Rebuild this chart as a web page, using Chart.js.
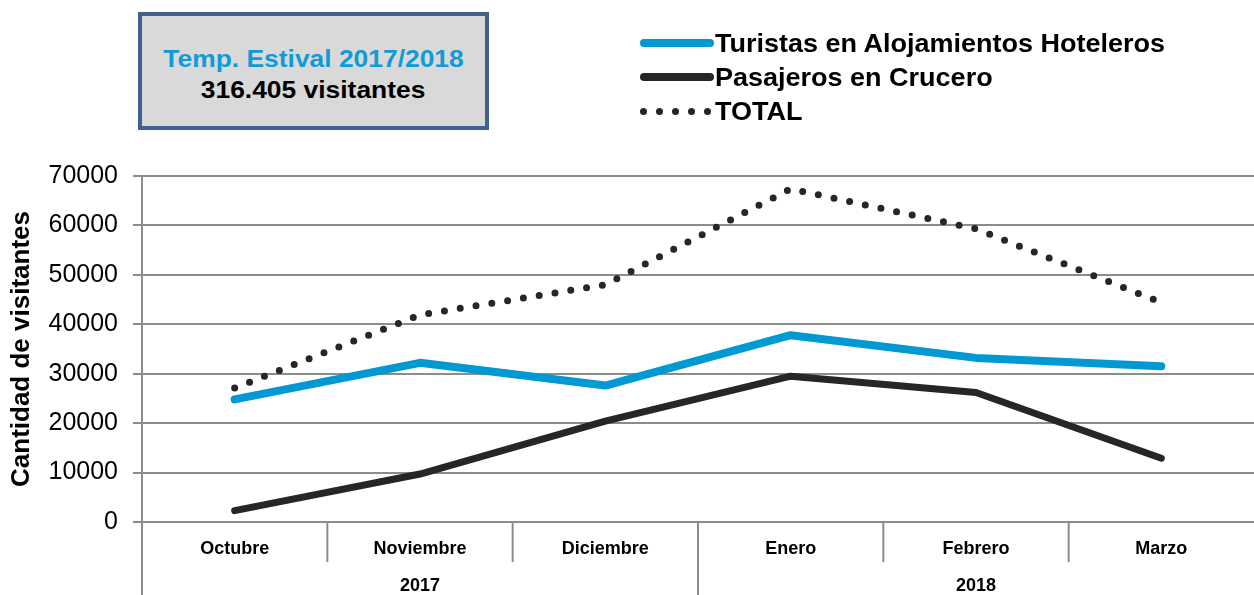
<!DOCTYPE html>
<html>
<head>
<meta charset="utf-8">
<script src="https://cdn.jsdelivr.net/npm/chart.js@4.4.0/dist/chart.umd.min.js"></script>
<style>
  body { margin: 0; background: #fff; font-family: "Liberation Sans", Arial, sans-serif; }
  #wrap { position: relative; width: 1254px; height: 595px; }
  #info {
    position: absolute; left: 138px; top: 12px; width: 343px;
    background: #d9d9d9; border: 4px solid #41618f;
    text-align: center; font-weight: bold; font-size: 24px; line-height: 31px;
    padding-top: 27px; height: 83px;
  }
  #info div span { display: inline-block; transform: scaleX(1.1); }
  #info .t1 { color: #0f9bd7; }
  #info .t2 { color: #000; }
  .leg { position: absolute; left: 640px; font-weight: bold; font-size: 25px; color: #000; height: 30px; line-height: 30px; }
  .leg .sw { position: absolute; left: 0; top: 11px; width: 74px; height: 8px; border-radius: 4px; }
  .leg .dots { position: absolute; left: 0; top: 12px; width: 74px; height: 7px; }
  .leg .dots span { position: absolute; top: 0; width: 7px; height: 7px; border-radius: 50%; background: #262626; }
  .leg .lbl { position: absolute; left: 75px; white-space: nowrap; transform: scaleX(1.08); transform-origin: 0 50%; }
  canvas { position: absolute; left: 0; top: 0; }
</style>
</head>
<body>
<div id="wrap">
  <canvas id="myChart" width="1254" height="595"></canvas>
  <div id="info"><div class="t1"><span>Temp. Estival 2017/2018</span></div><div class="t2"><span>316.405 visitantes</span></div></div>
  <div class="leg" style="top:28px"><div class="sw" style="background:#0099d4"></div><div class="lbl">Turistas en Alojamientos Hoteleros</div></div>
  <div class="leg" style="top:62px"><div class="sw" style="background:#262626"></div><div class="lbl">Pasajeros en Crucero</div></div>
  <div class="leg" style="top:96px"><div class="dots"><span style="left:0"></span><span style="left:16px"></span><span style="left:32px"></span><span style="left:48px"></span><span style="left:64px"></span></div><div class="lbl">TOTAL</div></div>
</div>
<script>
var months = ['Octubre', 'Noviembre', 'Diciembre', 'Enero', 'Febrero', 'Marzo'];
var years = ['2017', '2018'];
var turistas = [24800, 32200, 27600, 37800, 33200, 31500];
var crucero = [2300, 9700, 20400, 29500, 26200, 12900];
var total = [27100, 41900, 48000, 67400, 59300, 44400];
var yTicks = [0, 10000, 20000, 30000, 40000, 50000, 60000, 70000];

var FONT = '"Liberation Sans", Arial, sans-serif';
var GRID = '#8c8c8c';

// draws month / year labels under the plot with separators
var xAxisPlugin = {
    id: 'xAxisLabels',
    afterDraw: function(chart) {
        var ctx = chart.ctx;
        var xs = chart.scales.x;
        var area = chart.chartArea;
        var step = xs.getPixelForValue(1) - xs.getPixelForValue(0);
        ctx.save();
        ctx.strokeStyle = GRID;
        ctx.lineWidth = 2;
        // axis line, with small tick on the left
        ctx.beginPath();
        ctx.moveTo(area.left - 9, area.bottom);
        ctx.lineTo(area.right, area.bottom);
        ctx.stroke();
        for (var i = 0; i < months.length; i++) {
            var bx = xs.getPixelForValue(i) - step / 2;
            var full = (i % 3 == 0);
            ctx.beginPath();
            ctx.moveTo(bx, area.bottom);
            ctx.lineTo(bx, full ? chart.height : area.bottom + 40);
            ctx.stroke();
        }
        ctx.fillStyle = '#000';
        ctx.font = 'bold 18px ' + FONT;
        ctx.textAlign = 'center';
        ctx.textBaseline = 'middle';
        for (var j = 0; j < months.length; j++) {
            ctx.fillText(months[j], xs.getPixelForValue(j), area.bottom + 27);
        }
        for (var k = 0; k < years.length; k++) {
            var mid = (xs.getPixelForValue(k * 3) + xs.getPixelForValue(k * 3 + 2)) / 2;
            ctx.fillText(years[k], mid, area.bottom + 64);
        }
        ctx.restore();
    }
};

var ctx = document.getElementById('myChart');
var chart = new Chart(ctx, {
    type: 'line',
    data: {
        labels: months,
        datasets: [
            {
                label: 'Turistas en Alojamientos Hoteleros',
                data: turistas,
                borderColor: '#0099d4',
                borderWidth: 8,
                borderCapStyle: 'round',
                borderJoinStyle: 'round',
                pointRadius: 0,
                tension: 0
            },
            {
                label: 'Pasajeros en Crucero',
                data: crucero,
                borderColor: '#262626',
                borderWidth: 7,
                borderCapStyle: 'round',
                borderJoinStyle: 'round',
                pointRadius: 0,
                tension: 0
            },
            {
                label: 'TOTAL',
                data: total,
                borderColor: '#262626',
                borderWidth: 7,
                borderDash: [0, 16],
                borderCapStyle: 'round',
                pointRadius: 0,
                tension: 0
            }
        ]
    },
    plugins: [xAxisPlugin],
    options: {
        responsive: false,
        animation: false,
        maintainAspectRatio: false,
        layout: { padding: { top: 176, right: 0, bottom: 73, left: 0 } },
        plugins: {
            legend: { display: false },
            tooltip: { enabled: false }
        },
        scales: {
            x: {
                display: false,
                offset: true
            },
            y: {
                min: 0,
                max: 70000,
                afterBuildTicks: function(scale) {
                    scale.ticks = yTicks.map(function(v) { return { value: v }; });
                },
                afterFit: function(scale) { scale.width = 142; },
                border: { display: true, color: GRID, width: 2 },
                grid: { color: GRID, lineWidth: 2, drawTicks: true, tickLength: 9 },
                ticks: {
                    color: '#000',
                    padding: 15,
                    font: { family: FONT, size: 25 },
                    callback: function(v) { return String(v); }
                },
                title: {
                    display: true,
                    text: 'Cantidad de visitantes',
                    color: '#000',
                    font: { family: FONT, size: 26, weight: 'bold' },
                    padding: { top: 6, bottom: 0 }
                }
            }
        }
    }
});
</script>
</body>
</html>
